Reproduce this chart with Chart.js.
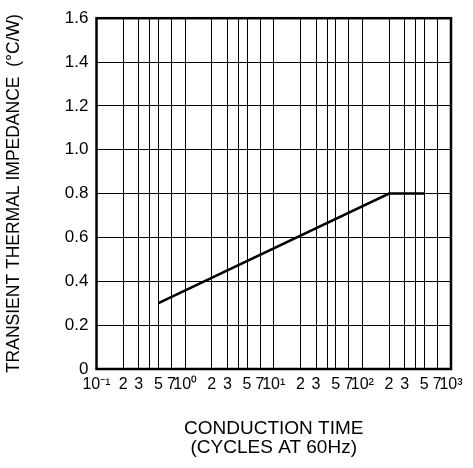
<!DOCTYPE html>
<html>
<head>
<meta charset="utf-8">
<script src="https://cdn.jsdelivr.net/npm/chart.js@4"></script>
<style>
html,body{margin:0;padding:0;background:#fff;}
#wrap{width:473px;height:468px;}
</style>
</head>
<body>
<div id="wrap"><canvas id="c" width="473" height="468"></canvas></div>
<script>
// Data
const conductionTime = [0.5, 200, 500];
const impedance = [0.3, 0.8, 0.8];
const xTickValues = [0.1,0.2,0.3,0.4,0.5,0.7,1,2,3,4,5,7,10,20,30,40,50,70,100,200,300,400,500,700,1000];
const xTickLabels = ['10\u207B\u00B9','2','3','','5','7','10\u2070','2','3','','5','7','10\u00B9','2','3','','5','7','10\u00B2','2','3','','5','7','10\u00B3'];
const yTickValues = [0,0.2,0.4,0.6,0.8,1.0,1.2,1.4,1.6];
const yTickLabels = ['0','0.2','0.4','0.6','0.8','1.0','1.2','1.4','1.6'];

const FONT = '"Liberation Sans", Arial, sans-serif';

const frame = {
  id: 'frame',
  afterDatasetsDraw(chart) {
    const a = chart.chartArea, ctx = chart.ctx;
    ctx.save();
    ctx.strokeStyle = '#000';
    ctx.lineWidth = 2.5;
    ctx.strokeRect(a.left, a.top, a.right - a.left, a.bottom - a.top);
    ctx.restore();
  }
};

new Chart(document.getElementById('c'), {
  type: 'scatter',
  data: {
    datasets: [{
      data: conductionTime.map((x, i) => ({x: x, y: impedance[i]})),
      showLine: true,
      borderColor: '#000',
      borderWidth: 2.5,
      pointRadius: 0,
      tension: 0,
      fill: false
    }]
  },
  options: {
    responsive: false,
    animation: false,
    devicePixelRatio: 1,
    layout: {padding: {left: 0, right: 22, top: 15, bottom: 0}},
    plugins: {legend: {display: false}, tooltip: {enabled: false}},
    scales: {
      x: {
        type: 'logarithmic',
        min: 0.1, max: 1000,
        afterBuildTicks(s) { s.ticks = xTickValues.map(v => ({value: v})); },
        afterFit(s) { s.height = 99; },
        ticks: {
          autoSkip: false, maxRotation: 0, minRotation: 0,
          color: '#000', font: {family: FONT, size: 16}, padding: 6,
          callback(v, i) { return xTickLabels[i]; }
        },
        grid: {color: '#000', lineWidth: 1, drawTicks: false},
        border: {display: false},
        title: {
          display: true,
          text: ['CONDUCTION TIME', '(CYCLES AT 60Hz)'],
          color: '#000', font: {family: FONT, size: 19, lineHeight: 1.0},
          padding: {top: 0, bottom: 11}
        }
      },
      y: {
        min: 0, max: 1.6,
        afterBuildTicks(s) { s.ticks = yTickValues.map(v => ({value: v})); },
        afterFit(s) { s.width = 96.5; },
        ticks: {
          color: '#000', font: {family: FONT, size: 17}, padding: 8,
          callback(v, i) { return yTickLabels[i]; }
        },
        grid: {color: '#000', lineWidth: 1, drawTicks: false},
        border: {display: false},
        title: {
          display: true,
          text: 'TRANSIENT THERMAL IMPEDANCE  (\u00B0C/W)',
          color: '#000', font: {family: FONT, size: 17.5},
          padding: {top: 4, bottom: 0}
        }
      }
    }
  },
  plugins: [frame]
});
</script>
</body>
</html>
